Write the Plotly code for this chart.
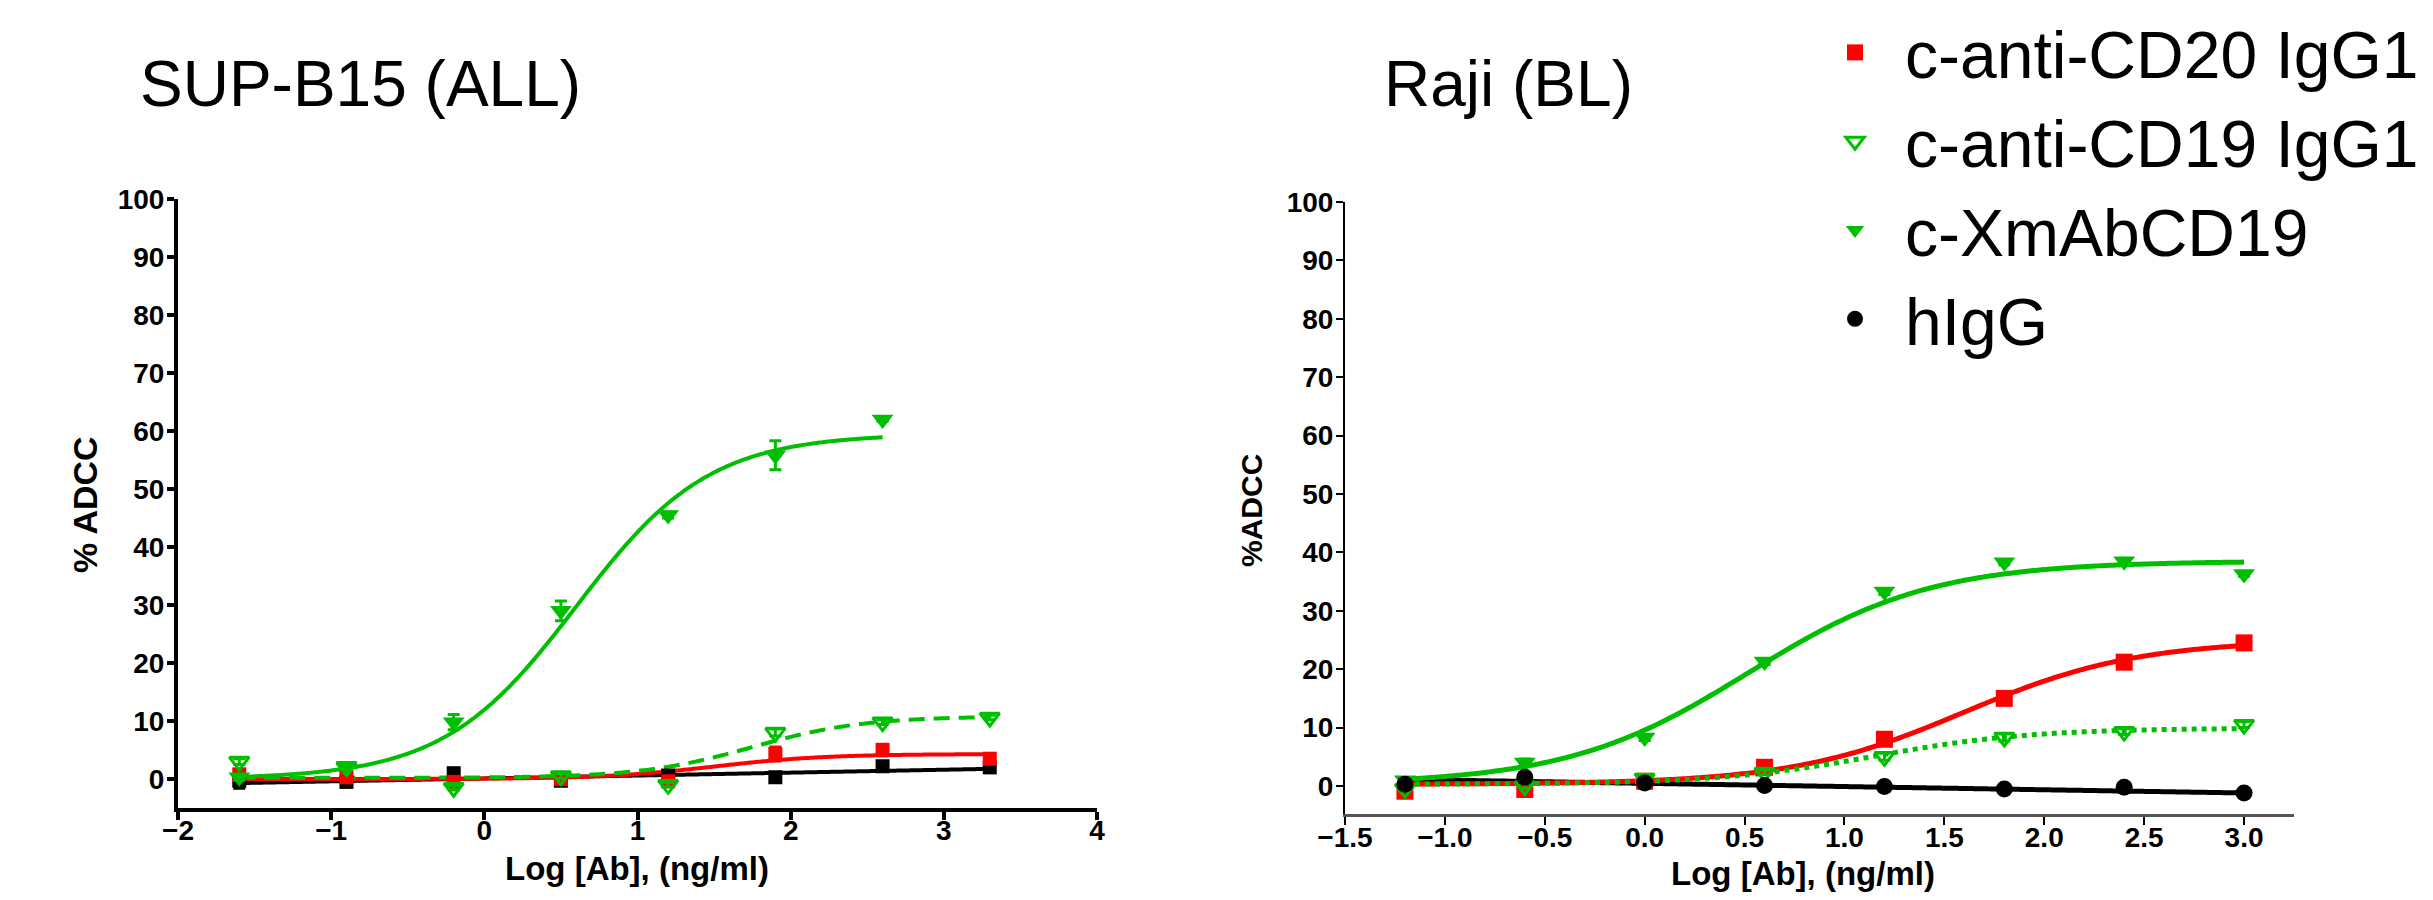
import numpy as np
import plotly.graph_objects as go

# ---------------- data ----------------
# Left panel: SUP-B15 (ALL)
left_x = [-1.6, -0.9, -0.2, 0.5, 1.2, 1.9, 2.6, 3.3]
left_xmab_x = [-1.6, -0.9, -0.2, 0.5, 1.2, 1.9, 2.6]
left_cd20 = [0.8, 0.3, -0.5, 0.0, -0.4, 4.3, 5.0, 3.5]
left_cd20_err = [0.8, 0.4, 0.5, 0.5, 0.6, 1.2, 1.0, 0.5]
left_cd19 = [3.0, 2.0, -1.5, 0.5, -1.0, 8.0, 9.8, 10.6]
left_cd19_err = [0.5, 0.4, 0.4, 0.4, 0.4, 0.6, 0.4, 0.4]
left_xmab = [0.3, 2.3, 9.8, 29.0, 45.5, 55.8, 62.0]
left_xmab_err = [0.5, 0.5, 1.3, 1.7, 0.5, 2.5, 0.3]
left_higg = [-0.3, -0.5, 1.0, -0.3, 0.6, 0.3, 2.2, 2.0]
left_higg_err = [1.3, 0.8, 0.8, 0.8, 0.5, 0.7, 0.8, 0.6]

# Right panel: Raji (BL)
right_x = [-1.2, -0.6, 0.0, 0.6, 1.2, 1.8, 2.4, 3.0]
right_cd20 = [-0.9, -0.6, 0.8, 3.2, 8.0, 15.0, 21.2, 24.5]
right_cd20_err = [0.6, 0.5, 0.5, 0.6, 1.0, 1.0, 0.8, 1.0]
right_cd19 = [-0.5, 0.0, 1.3, 2.3, 5.0, 8.3, 9.3, 10.5]
right_cd19_err = [0.4, 0.4, 0.4, 0.4, 0.6, 0.6, 0.5, 0.5]
right_xmab = [1.0, 4.0, 8.3, 21.3, 33.3, 38.3, 38.5, 36.3]
right_xmab_err = [0.4, 0.6, 0.5, 0.5, 0.5, 0.4, 0.4, 0.4]
right_higg = [0.3, 1.5, 0.5, 0.1, -0.1, -0.5, -0.2, -1.2]
right_higg_err = [0.4, 0.5, 0.4, 0.4, 0.4, 0.4, 0.4, 0.4]

# fitted curve parameters: [bottom, top, logEC50, hill]
left_fit_xmab = [0.0, 59.5, 0.6, 1.0]
left_fit_cd19 = [0.2, 10.8, 1.75, 1.2]
left_fit_cd20 = [0.0, 4.3, 1.5, 1.2]
left_fit_higg_line = [0.1, 0.5]  # intercept, slope
right_fit_xmab = [0.3, 38.5, 0.52, 0.95]
right_fit_cd20 = [0.3, 25.0, 1.6, 1.0]
right_fit_cd19 = [0.3, 9.9, 1.15, 1.1]
right_fit_higg_line = [0.45, -0.55]

names = ["c-anti-CD20 IgG1", "c-anti-CD19 IgG1", "c-XmAbCD19", "hIgG"]
titles = ["SUP-B15 (ALL)", "Raji (BL)"]
ytitles = ["% ADCC", "%ADCC"]
xtitle = "Log [Ab], (ng/ml)"

RED = "#FF0000"
GREEN = "#00BE00"
BLACK = "#000000"
FONT = "Liberation Sans, Arial, sans-serif"


def fourpl(xs, p):
    b, t, ec, h = p
    xs = np.asarray(xs)
    return b + (t - b) / (1 + 10 ** ((ec - xs) * h))


def grid(xs):
    return np.linspace(min(xs), max(xs), 200)


fig = go.Figure()

# ---------------- curves ----------------
def curve(xs, ys, color, width, dash, xa, ya):
    fig.add_trace(go.Scatter(x=xs, y=ys, mode="lines",
                             line=dict(color=color, width=width, dash=dash, shape="spline"),
                             showlegend=False, xaxis=xa, yaxis=ya, hoverinfo="skip"))

g = grid(left_x)
gx = grid(left_xmab_x)
curve(g, left_fit_higg_line[0] + left_fit_higg_line[1] * g, BLACK, 4, "solid", "x", "y")
curve(g, fourpl(g, left_fit_cd20), RED, 4, "solid", "x", "y")
curve(g, fourpl(g, left_fit_cd19), GREEN, 4, "16px,9px", "x", "y")
curve(gx, fourpl(gx, left_fit_xmab), GREEN, 4, "solid", "x", "y")

g2 = grid(right_x)
curve(g2, right_fit_higg_line[0] + right_fit_higg_line[1] * g2, BLACK, 5, "solid", "x2", "y2")
curve(g2, fourpl(g2, right_fit_cd20), RED, 5, "solid", "x2", "y2")
curve(g2, fourpl(g2, right_fit_cd19), GREEN, 5, "dot", "x2", "y2")
curve(g2, fourpl(g2, right_fit_xmab), GREEN, 5, "solid", "x2", "y2")

# ---------------- points ----------------
def pts(xs, ys, err, color, symbol, size, xa, ya, name=None, legend=False, lw=0):
    fig.add_trace(go.Scatter(
        x=xs, y=ys, mode="markers", name=name, showlegend=legend,
        marker=dict(color=color, symbol=symbol, size=size,
                    line=dict(color=color, width=lw)),
        error_y=dict(type="data", array=err, color=color, thickness=3, width=6),
        xaxis=xa, yaxis=ya, cliponaxis=False))

# right panel markers first (used for legend)
pts(right_x, right_cd20, right_cd20_err, RED, "square", 17, "x2", "y2", names[0], True)
pts(right_x, right_cd19, right_cd19_err, GREEN, "triangle-down-open", 17, "x2", "y2", names[1], True, lw=3)
pts(right_x, right_xmab, right_xmab_err, GREEN, "triangle-down", 19, "x2", "y2", names[2], True)
pts(right_x, right_higg, right_higg_err, BLACK, "circle", 17, "x2", "y2", names[3], True)

pts(left_x, left_higg, left_higg_err, BLACK, "square", 14, "x", "y")
pts(left_x, left_cd20, left_cd20_err, RED, "square", 14, "x", "y")
pts(left_x, left_cd19, left_cd19_err, GREEN, "triangle-down-open", 17, "x", "y", lw=3)
pts(left_xmab_x, left_xmab, left_xmab_err, GREEN, "triangle-down", 19, "x", "y")

W, H = 2433, 900
tickfont = dict(family=FONT, size=28, color="black", weight="bold")

ax_common = dict(showgrid=False, zeroline=False, ticks="outside", showline=True,
                 tickfont=tickfont, automargin=False, fixedrange=True)

fig.update_layout(
    width=W, height=H,
    margin=dict(l=0, r=0, t=0, b=0, pad=0, autoexpand=False),
    paper_bgcolor="white", plot_bgcolor="white",
    font=dict(family=FONT, color="black"),
    xaxis=dict(domain=[170 / W, 1089 / W], range=[-2, 4], dtick=1, tick0=-2,
               linewidth=4, linecolor="black", tickwidth=4, ticklen=8, tickcolor="black",
               ticklabelstandoff=-14, anchor="y", **ax_common),
    yaxis=dict(domain=[(H - 800) / H, (H - 191) / H], range=[-5, 100], dtick=10, tick0=0,
               linewidth=4, linecolor="black", tickwidth=4, ticklen=7, tickcolor="black",
               ticklabelstandoff=-3, anchor="x", **ax_common),
    xaxis2=dict(domain=[1337 / W, 2286 / W], range=[-1.5, 3.25], dtick=0.5, tick0=-1.5,
                tickformat=".1f",
                linewidth=3, linecolor="#555555", tickwidth=2, ticklen=8, tickcolor="black",
                ticklabelstandoff=-12, anchor="y2", **ax_common),
    yaxis2=dict(domain=[(H - 806) / H, (H - 194) / H], range=[-4.8, 100], dtick=10, tick0=0,
                linewidth=2, linecolor="black", tickwidth=2, ticklen=7, tickcolor="black",
                ticklabelstandoff=-3, anchor="x2", **ax_common),
    legend=dict(x=1797 / W, y=1 + 5 / H,
                xanchor="left", yanchor="top", itemwidth=90,
                font=dict(family=FONT, size=66, color="black"),
                bgcolor="rgba(0,0,0,0)", borderwidth=0, itemclick=False,
                itemdoubleclick=False),
    showlegend=True,
)

ann = []
ann.append(dict(text=titles[0], x=130 / W, y=1 - 76 / H, xref="paper", yref="paper",
                xanchor="left", yanchor="middle", showarrow=False,
                font=dict(family=FONT, size=64, color="black")))
ann.append(dict(text=titles[1], x=1501 / W, y=1 - 76 / H, xref="paper", yref="paper",
                xanchor="center", yanchor="middle", showarrow=False,
                font=dict(family=FONT, size=64, color="black")))
ann.append(dict(text=xtitle, x=629 / W, y=1 - 860 / H, xref="paper", yref="paper",
                xanchor="center", yanchor="middle", showarrow=False,
                font=dict(family=FONT, size=33, color="black", weight="bold")))
ann.append(dict(text=xtitle, x=1795 / W, y=1 - 865 / H, xref="paper", yref="paper",
                xanchor="center", yanchor="middle", showarrow=False,
                font=dict(family=FONT, size=33, color="black", weight="bold")))
ann.append(dict(text=ytitles[0], x=77 / W, y=1 - 497 / H, xref="paper", yref="paper",
                xanchor="center", yanchor="middle", showarrow=False, textangle=-90,
                font=dict(family=FONT, size=34, color="black", weight="bold")))
ann.append(dict(text=ytitles[1], x=1243 / W, y=1 - 503 / H, xref="paper", yref="paper",
                xanchor="center", yanchor="middle", showarrow=False, textangle=-90,
                font=dict(family=FONT, size=30, color="black", weight="bold")))
fig.update_layout(annotations=ann)

fig.write_html("out.html")
